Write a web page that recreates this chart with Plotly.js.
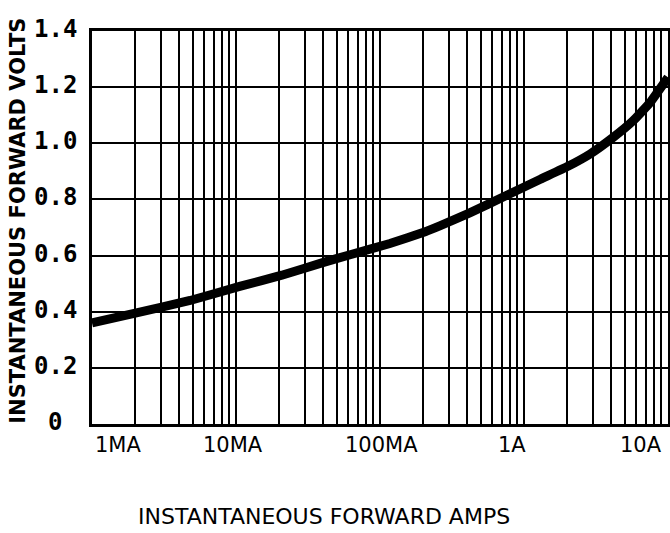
<!DOCTYPE html>
<html>
<head>
<meta charset="utf-8">
<script src="https://cdn.plot.ly/plotly-3.0.1.min.js"></script>
<style>
  html, body { margin: 0; padding: 0; background: #ffffff; }
  #chart { width: 670px; height: 533px; }
</style>
</head>
<body>
<div id="chart"></div>
<script>
// Forward current (A) and instantaneous forward voltage (V)
const currentAmps = [0.0005, 0.001, 0.0024, 0.0053, 0.0104, 0.020, 0.031, 0.0586, 0.103, 0.13, 0.21, 0.38, 0.65, 1.01, 1.44, 2.07, 2.86, 3.75, 5.0];
const forwardVolts = [0.36, 0.395, 0.44, 0.49, 0.53, 0.575, 0.603, 0.643, 0.685, 0.706, 0.752, 0.815, 0.872, 0.918, 0.962, 1.02, 1.08, 1.145, 1.235];

// x tick labels (positions as printed on the original sheet)
const xTickText = ['1MA', '10MA', '100MA', '1A', '10A'];
const xTickPos = [0.00076, 0.0048, 0.051, 0.41, 3.24];

// y tick labels
const yTickVals = [0, 0.2, 0.4, 0.6, 0.8, 1.0, 1.2, 1.4];
const yTickText = ['0', '0.2', '0.4', '0.6', '0.8', '1.0', '1.2', '1.4'];

// graph paper rulings: 1, 1.5, 2 ... 5 in every decade
const paperMantissas = [1, 1.5, 2, 2.5, 3, 3.5, 4, 4.5, 5];
const paperDecades = [0.001, 0.01, 0.1, 1];

const xTitle = 'INSTANTANEOUS FORWARD AMPS';
const yTitle = 'INSTANTANEOUS FORWARD VOLTS';

const gridVals = [];
paperDecades.forEach(d => paperMantissas.forEach(m => gridVals.push(m * d)));

const xRange = [Math.log10(0.0005), Math.log10(5)];

const trace = {
  x: currentAmps,
  y: forwardVolts,
  type: 'scatter',
  mode: 'lines',
  line: { color: '#000', width: 9, shape: 'spline', smoothing: 0.3 },
  hoverinfo: 'skip'
};

const annotations = yTickVals.map((v, i) => ({
  xref: 'paper', yref: 'y',
  x: -0.064, y: v,
  text: yTickText[i],
  showarrow: false,
  xanchor: 'center', yanchor: 'middle',
  yshift: 2,
  font: { family: 'DejaVu Sans Mono', size: 24, color: '#000', weight: 'bold' }
}));

xTickPos.forEach((v, i) => annotations.push({
  xref: 'x', yref: 'paper',
  x: Math.log10(v), y: -0.053,
  text: xTickText[i],
  showarrow: false,
  xanchor: 'center', yanchor: 'middle',
  font: { family: 'DejaVu Sans', size: 21, color: '#000' }
}));

annotations.push({
  xref: 'paper', yref: 'paper',
  x: 0.403, y: -0.236,
  text: xTitle, showarrow: false,
  xanchor: 'center', yanchor: 'middle',
  font: { family: 'DejaVu Sans', size: 22, color: '#000' }
});
annotations.push({
  xref: 'paper', yref: 'paper',
  x: -0.128, y: 0.518,
  text: yTitle, showarrow: false, textangle: -90,
  xanchor: 'center', yanchor: 'middle',
  font: { family: 'DejaVu Sans', size: 21, color: '#000', weight: 'bold' }
});

const layout = {
  width: 670, height: 533,
  margin: { l: 92, r: 2, t: 31, b: 109 },
  paper_bgcolor: '#fff', plot_bgcolor: '#fff',
  showlegend: false,
  xaxis: {
    type: 'log', range: xRange,
    tickmode: 'array', tickvals: gridVals,
    showticklabels: false, ticks: '',
    showgrid: true, gridcolor: '#000', gridwidth: 2,
    showline: true, linecolor: '#000', linewidth: 3, mirror: true,
    zeroline: false, fixedrange: true
  },
  yaxis: {
    range: [0, 1.4],
    tickmode: 'array', tickvals: yTickVals,
    showticklabels: false, ticks: '',
    showgrid: true, gridcolor: '#000', gridwidth: 2,
    showline: true, linecolor: '#000', linewidth: 3, mirror: true,
    zeroline: false, fixedrange: true
  },
  annotations: annotations
};

Plotly.newPlot('chart', [trace], layout, { staticPlot: true, displayModeBar: false });
</script>
</body>
</html>
